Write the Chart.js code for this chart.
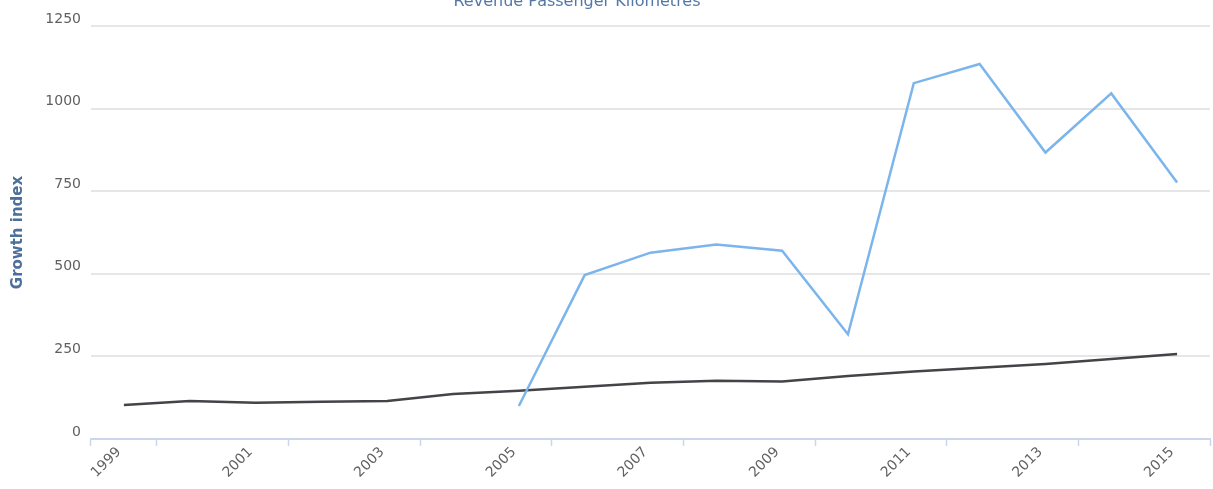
<!DOCTYPE html>
<html>
<head>
<meta charset="utf-8">
<script src="https://cdn.jsdelivr.net/npm/chart.js@4"></script>
<style>
html,body{margin:0;padding:0;background:#fff;}
#wrap{width:1213px;height:489px;position:relative;}
</style>
</head>
<body>
<div id="wrap"><canvas id="c" width="1213" height="489"></canvas></div>
<script>
const chartTitle = 'Revenue Passenger Kilometres';
const yAxisTitle = 'Growth index';
const years = ['1999','2000','2001','2002','2003','2004','2005','2006','2007','2008','2009','2010','2011','2012','2013','2014','2015'];
const seriesBlue = [null, null, null, null, null, null, 100, 496, 564, 589, 570, 317, 1077, 1135, 867, 1046, 776];
const seriesBlack = [103, 115, 110, 113, 115, 136, 146, 158, 170, 176, 174, 191, 204, 216, 227, 242, 257];
const yTicks = [0, 250, 500, 750, 1000, 1250];

const titlePlugin = {
  id: 'topTitle',
  afterDraw(chart) {
    const ctx = chart.ctx;
    ctx.save();
    ctx.font = '16px "DejaVu Sans", sans-serif';
    ctx.fillStyle = '#5378a8';
    ctx.textAlign = 'center';
    ctx.textBaseline = 'alphabetic';
    ctx.fillText(chartTitle, 577, 6);
    ctx.restore();
  }
};

new Chart(document.getElementById('c'), {
  type: 'line',
  data: {
    labels: years,
    datasets: [
      { data: seriesBlue, borderColor: '#7cb5ec', borderWidth: 2.5, pointRadius: 0, tension: 0, spanGaps: false },
      { data: seriesBlack, borderColor: '#434348', borderWidth: 2.5, pointRadius: 0, tension: 0 }
    ]
  },
  options: {
    responsive: false,
    animation: false,
    events: [],
    layout: { padding: { top: 26, right: 3, bottom: 0, left: 0 } },
    plugins: { legend: { display: false }, tooltip: { enabled: false }, title: { display: false } },
    scales: {
      x: {
        offset: true,
        grid: {
          offset: true,
          drawOnChartArea: false,
          drawTicks: true,
          tickLength: 7,
          tickWidth: 1.5,
          tickColor: (ctx) => (ctx.index === undefined || ctx.index === 0 || ctx.index % 2 === 1) ? '#ccd6eb' : 'rgba(0,0,0,0)'
        },
        border: { display: true, color: '#ccd6eb', width: 2 },
        ticks: {
          autoSkip: false,
          maxRotation: 45,
          minRotation: 45,
          padding: -2,
          labelOffset: -5,
          color: '#606060',
          font: { family: '"DejaVu Sans", sans-serif', size: 14 },
          callback: function(v, i) { return i % 2 === 0 ? years[i] : ''; }
        },
        afterFit(scale) { scale.height = 50; }
      },
      y: {
        min: 0,
        max: 1250,
        afterBuildTicks(scale) { scale.ticks = yTicks.map(v => ({ value: v })); },
        grid: { color: '#e6e6e6', lineWidth: 2, drawTicks: false },
        border: { display: false },
        ticks: {
          padding: 10,
          labelOffset: -7,
          color: '#606060',
          font: { family: '"DejaVu Sans", sans-serif', size: 14 },
          callback: function(v) { return String(v); }
        },
        title: {
          display: true,
          text: yAxisTitle,
          color: '#4d6f9c',
          font: { family: '"DejaVu Sans", sans-serif', size: 15, weight: 'bold' },
          padding: { top: 9, bottom: 4 }
        },
        afterFit(scale) { scale.width = 91; }
      }
    }
  },
  plugins: [titlePlugin]
});
</script>
</body>
</html>
